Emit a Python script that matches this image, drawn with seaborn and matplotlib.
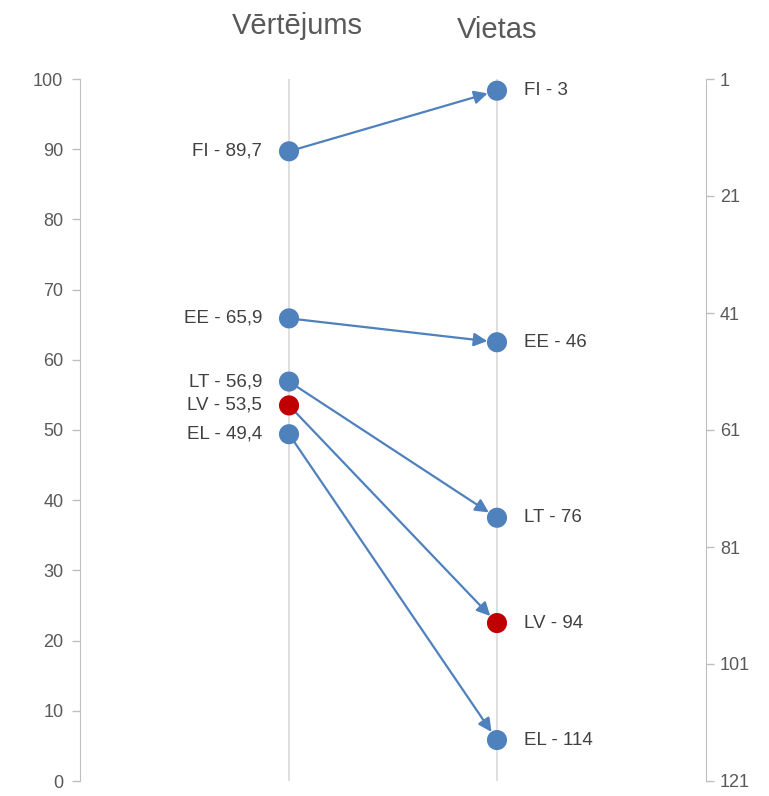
import seaborn as sns
import numpy as np
import matplotlib.pyplot as plt
import pandas as pd

countries = ['FI', 'EE', 'LT', 'LV', 'EL']
scores = [89.7, 65.9, 56.9, 53.5, 49.4]
ranks = [3, 46, 76, 94, 114]
score_ticks = [0, 10, 20, 30, 40, 50, 60, 70, 80, 90, 100]
rank_ticks = [1, 21, 41, 61, 81, 101, 121]
titles = ['Vērtējums', 'Vietas']

blue = '#4F81BD'
red = '#C00000'
colors = {c: (red if c == 'LV' else blue) for c in countries}

sns.set_style("white")
plt.rcParams['font.family'] = ['Liberation Sans Narrow', 'Liberation Sans', 'DejaVu Sans']

# rank -> left axis scale (1 at top = 100, 121 at bottom = 0)
def rank_to_score(r):
    return 100 - (r - 1) / 120 * 100

df = pd.DataFrame({
    'country': countries * 2,
    'x': [0] * len(countries) + [1] * len(countries),
    'y': scores + [rank_to_score(r) for r in ranks],
})

fig = plt.figure(figsize=(7.69, 7.96), dpi=100)
ax = fig.add_axes([80 / 769, 15 / 796, 626 / 769, 702 / 796])

for xv in [0, 1]:
    ax.axvline(xv, color='#D9D9D9', lw=1.2, zorder=0)

for c, s, r in zip(countries, scores, ranks):
    ax.annotate('', xy=(1, rank_to_score(r)), xytext=(0, s),
                arrowprops=dict(arrowstyle='-|>', color=blue, lw=1.6,
                                mutation_scale=20, shrinkA=0, shrinkB=7),
                zorder=2)

sns.scatterplot(data=df, x='x', y='y', hue='country', palette=colors,
                s=210, edgecolor='none', legend=False, ax=ax, zorder=3)

for c, s, r in zip(countries, scores, ranks):
    ax.text(-0.13, s, f'{c} - {str(s).replace(".", ",")}', ha='right', va='center',
            fontsize=13.5, color='#404040')
    ax.text(1.13, rank_to_score(r), f'{c} - {r}', ha='left', va='center',
            fontsize=13.5, color='#404040')

ax.set_xlim(-1.005, 2.005)
ax.set_ylim(0, 100)
ax.set_yticks(score_ticks)
ax.set_xticks([])
ax.set_xlabel('')
ax.set_ylabel('')
for side in ['top', 'right', 'bottom']:
    ax.spines[side].set_visible(False)
ax.spines['left'].set_color('#BFBFBF')
ax.tick_params(axis='y', colors='#BFBFBF', labelcolor='#595959', labelsize=13,
               length=6, width=1, left=True, pad=6)

ax2 = ax.twinx()
ax2.set_ylim(121, 1)
ax2.set_yticks(rank_ticks)
for side in ['top', 'left', 'bottom']:
    ax2.spines[side].set_visible(False)
ax2.spines['right'].set_color('#BFBFBF')
ax2.tick_params(axis='y', colors='#BFBFBF', labelcolor='#595959', labelsize=13,
                length=6, width=1, right=True, pad=4)

ax.text(0.04, 1.075, titles[0], transform=ax.get_xaxis_transform(), ha='center',
        va='center', fontsize=21, color='#595959')
ax.text(1, 1.07, titles[1], transform=ax.get_xaxis_transform(), ha='center',
        va='center', fontsize=21, color='#595959')

fig.savefig('out.png', dpi=100)
